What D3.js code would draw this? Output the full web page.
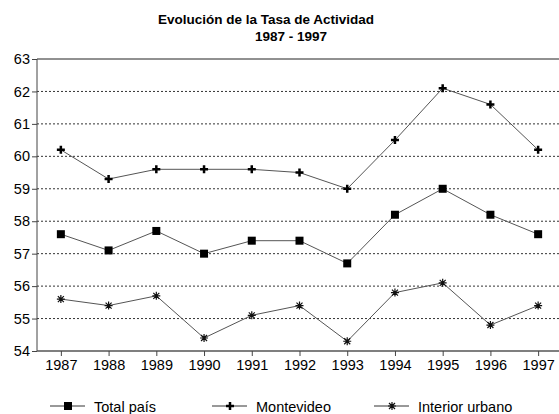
<!DOCTYPE html>
<html>
<head>
<meta charset="utf-8">
<script src="https://cdn.jsdelivr.net/npm/d3@7"></script>
<style>
body{margin:0;background:#fff}
text{font-family:"Liberation Sans",Arial,sans-serif;fill:#000}
</style>
</head>
<body>
<div id="chart"></div>
<script>
var years = [1987,1988,1989,1990,1991,1992,1993,1994,1995,1996,1997]
var totalPais = [57.6,57.1,57.7,57.0,57.4,57.4,56.7,58.2,59.0,58.2,57.6]
var montevideo = [60.2,59.3,59.6,59.6,59.6,59.5,59.0,60.5,62.1,61.6,60.2]
var interior = [55.6,55.4,55.7,54.4,55.1,55.4,54.3,55.8,56.1,54.8,55.4]
var yTicks = [54,55,56,57,58,59,60,61,62,63]

var series = [
	{name:"Total país",values:totalPais,m:"square"},
	{name:"Montevideo",values:montevideo,m:"plus"},
	{name:"Interior urbano",values:interior,m:"star"}
]

var W = 559, H = 414
var svg = d3.select("#chart").append("svg").attr("width",W).attr("height",H)

var x = d3.scaleLinear().domain([1986.5,1997.5]).range([37,562])
var y = d3.scaleLinear().domain([54,63]).range([351,59])

svg.append("text").attr("x",266).attr("y",24).attr("text-anchor","middle")
	.style("font-size","13.5px").style("font-weight","bold").text("Evolución de la Tasa de Actividad")
svg.append("text").attr("x",291).attr("y",41).attr("text-anchor","middle")
	.style("font-size","13.5px").style("font-weight","bold").text("1987 - 1997")

// grid
svg.selectAll(".grid").data(yTicks.filter(function(d){return d>54 && d<63})).enter()
	.append("line").attr("x1",37).attr("x2",W).attr("y1",function(d){return y(d)}).attr("y2",function(d){return y(d)})
	.attr("stroke","#333").attr("stroke-width",1).attr("stroke-dasharray","2,2")
svg.append("line").attr("x1",37).attr("x2",W).attr("y1",y(63)).attr("y2",y(63)).attr("stroke","#222")

var yAxis = svg.append("g").attr("transform","translate(37,0)")
	.call(d3.axisLeft(y).tickValues(yTicks).tickSize(5).tickFormat(d3.format("d")))
var xAxis = svg.append("g").attr("transform","translate(0,"+y(54)+")")
	.call(d3.axisBottom(x).tickValues(years).tickSize(5).tickFormat(d3.format("d")))
yAxis.select(".domain").attr("d","M0,"+y(63)+"V"+y(54)).attr("stroke","#444")
xAxis.select(".domain").attr("d","M37,0H"+W).attr("stroke","#555").attr("stroke-width",1.5)
svg.selectAll(".tick line").attr("stroke","#444")
yAxis.selectAll("text").style("font-size","14.5px").attr("x",-7).attr("fill","#000")
xAxis.selectAll("text").style("font-size","14.5px").attr("y",9).attr("fill","#000")
svg.selectAll(".domain").attr("fill","none")

function marker(g,type,cx,cy){
	if(type=="square"){
		g.append("rect").attr("x",cx-4).attr("y",cy-4).attr("width",8).attr("height",8).attr("fill","#000")
	}else if(type=="plus"){
		g.append("path").attr("d","M"+(cx-4)+","+cy+"H"+(cx+4)+"M"+cx+","+(cy-4)+"V"+(cy+4))
			.attr("stroke","#000").attr("stroke-width",2.5)
	}else{
		g.append("path").attr("d","M"+(cx-4)+","+cy+"H"+(cx+4)+"M"+cx+","+(cy-4)+"V"+(cy+4)
			+"M"+(cx-3)+","+(cy-3)+"L"+(cx+3)+","+(cy+3)+"M"+(cx-3)+","+(cy+3)+"L"+(cx+3)+","+(cy-3))
			.attr("stroke","#111").attr("stroke-width",1.2)
	}
}

var line = d3.line().x(function(d,i){return x(years[i])}).y(function(d){return y(d)})
series.forEach(function(s){
	svg.append("path").attr("d",line(s.values)).attr("fill","none").attr("stroke","#555").attr("stroke-width",1)
	var g = svg.append("g")
	s.values.forEach(function(v,i){marker(g,s.m,x(years[i]),y(v))})
})

// legend
var legX = [50,212,374]
series.forEach(function(s,i){
	var g = svg.append("g")
	g.append("line").attr("x1",legX[i]).attr("x2",legX[i]+35).attr("y1",406).attr("y2",406).attr("stroke","#333")
	marker(g,s.m,legX[i]+18,406)
	g.append("text").attr("x",legX[i]+44).attr("y",412).style("font-size","14.5px").text(s.name)
})
</script>
</body>
</html>
